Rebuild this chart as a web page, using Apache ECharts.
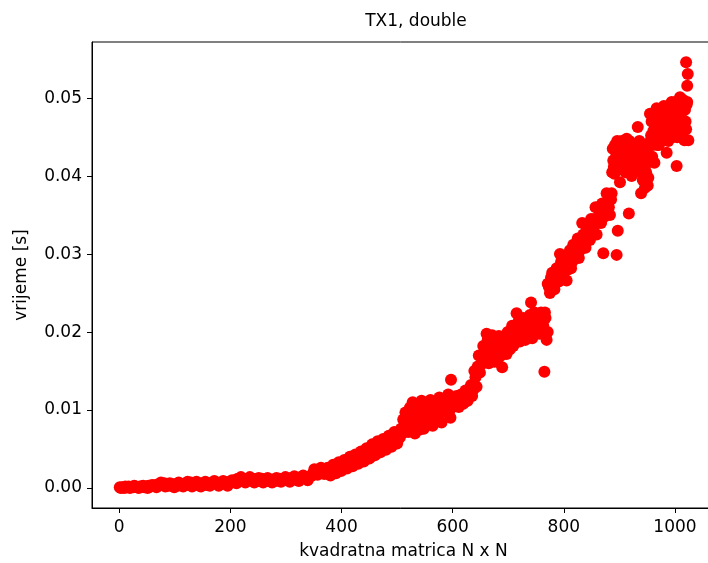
<!DOCTYPE html>
<html>
<head>
<meta charset="utf-8">
<script src="https://cdn.jsdelivr.net/npm/echarts@6/dist/echarts.min.js"></script>
<style>
  html, body { margin: 0; padding: 0; background: #fff; }
  #chart { width: 708px; height: 563px; }
</style>
</head>
<body>
<div id="chart"></div>
<script>
const sizes = [
  1,5,9,13,17,21,25,29,33,37,41,45,49,53,57,61,65,69,73,77,81,85,89,93,97,
  101,105,109,113,117,121,125,129,133,137,141,145,149,153,157,161,165,169,173,177,181,185,189,193,197,201,205,209,
  213,217,221,225,229,233,237,241,245,249,253,257,261,265,269,273,277,281,285,289,293,297,301,305,309,313,317,321,325,329,333,337,341,345,
  349,353,357,361,365,369,373,377,381,385,389,393,397,401,405,409,413,417,421,425,429,433,437,441,445,449,453,457,461,465,469,473,477,481,485,489,493,497,501,505,
  509,513,517,521,525,529,533,537,541,545,549,553,557,561,565,569,573,577,581,585,589,593,597,598,601,
  605,609,613,617,621,625,629,633,637,641,645,649,653,
  657,661,665,669,673,677,681,685,689,690,693,697,701,705,709,713,715,717,721,725,729,733,737,741,743,745,749,753,757,761,765,766,769,
  773,777,781,785,789,793,797,801,805,809,813,817,821,825,829,833,837,841,845,849,853,857,861,865,869,871,873,877,881,885,
  887,889,891,893,895,895,897,899,901,903,905,907,909,911,913,915,917,919,921,923,925,927,929,931,933,935,937,939,941,943,945,947,949,951,953,
  955,957,959,961,963,965,967,969,971,973,975,977,979,981,983,985,987,989,991,993,995,997,999,1001,1003,1005,1007,1009,1011,1013,1015,1017,1019,1020,1021,1022,1023,1024
];
const times = [
  0.0001,0.0001,0.0000,0.0001,0.0002,0.0001,0.0001,0.0002,0.0001,0.0002,0.0002,0.0001,0.0002,0.0003,0.0002,0.0003,0.0004,0.0003,0.0004,0.0005,0.0006,0.0004,0.0003,0.0004,0.0005,
  0.0004,0.0003,0.0005,0.0004,0.0005,0.0004,0.0006,0.0007,0.0005,0.0004,0.0005,0.0003,0.0006,0.0005,0.0004,0.0006,0.0005,0.0007,0.0008,0.0006,0.0005,0.0006,0.0007,0.0006,0.0008,0.0007,0.0009,0.0010,
  0.0012,0.0011,0.0010,0.0012,0.0009,0.0011,0.0010,0.0012,0.0011,0.0009,0.0010,0.0012,0.0010,0.0011,0.0009,0.0010,0.0011,0.0009,0.0010,0.0012,0.0011,0.0010,0.0012,0.0011,0.0013,0.0012,0.0011,0.0013,0.0012,0.0014,0.0013,0.0012,0.0014,0.0015,
  0.0019,0.0022,0.0020,0.0023,0.0021,0.0022,0.0020,0.0023,0.0024,0.0022,0.0026,0.0025,0.0028,0.0027,0.0031,0.0029,0.0032,0.0034,0.0033,0.0036,0.0035,0.0038,0.0037,0.0041,0.0040,0.0045,0.0043,0.0048,0.0050,0.0047,0.0052,0.0051,0.0054,0.0057,0.0055,0.0060,0.0058,0.0063,0.0067,0.0065,
  0.0070,0.0078,0.0085,0.0095,0.0090,0.0102,0.0083,0.0098,0.0075,0.0092,0.0104,0.0087,0.0099,0.0081,0.0095,0.0104,0.0092,0.0100,0.0108,0.0098,0.0114,0.0104,0.0139,0.0108,0.0112,
  0.0108,0.0114,0.0106,0.0117,0.0110,0.0120,0.0124,0.0132,0.0126,0.0142,0.0156,0.0148,0.0166,
  0.0172,0.0198,0.0160,0.0185,0.0170,0.0192,0.0165,0.0180,0.0155,0.0175,0.0195,0.0172,0.0188,0.0200,0.0182,0.0195,0.0224,0.0205,0.0188,0.0210,0.0195,0.0215,0.0200,0.0238,0.0192,0.0212,0.0205,0.0220,0.0198,0.0215,0.0149,0.0225,0.0190,
  0.0258,0.0270,0.0262,0.0278,0.0268,0.0300,0.0275,0.0288,0.0266,0.0295,0.0282,0.0312,0.0298,0.0320,0.0305,0.0340,0.0315,0.0330,0.0322,0.0345,0.0335,0.0360,0.0340,0.0352,0.0365,0.0301,0.0348,0.0378,0.0360,0.0370,
  0.0405,0.0420,0.0403,0.0415,0.0433,0.0299,0.0330,0.0425,0.0392,0.0410,0.0440,0.0418,0.0430,0.0405,0.0448,0.0425,0.0352,0.0435,0.0412,0.0440,0.0420,0.0432,0.0410,0.0425,0.0463,0.0418,0.0430,0.0378,0.0403,0.0422,0.0410,0.0395,0.0418,0.0388,0.0440,
  0.0480,0.0452,0.0425,0.0458,0.0417,0.0470,0.0487,0.0455,0.0440,0.0475,0.0462,0.0448,0.0480,0.0468,0.0455,0.0430,0.0472,0.0490,0.0460,0.0478,0.0450,0.0485,0.0465,0.0495,0.0413,0.0470,0.0482,0.0501,0.0475,0.0458,0.0490,0.0446,0.0470,0.0546,0.0492,0.0516,0.0531,0.0446
];
// further points that fill out the thickness of the band, as [N, seconds]
const morePoints = [
  [3,0.0000],[11,0.0002],[19,0.0000],[27,0.0003],[35,0.0000],[43,0.0003],[51,0.0000],[59,0.0004],[67,0.0001],[75,0.0007],
  [83,0.0002],[91,0.0006],[99,0.0001],[107,0.0007],[115,0.0002],[123,0.0008],[131,0.0002],[139,0.0008],[147,0.0002],[155,0.0008],
  [163,0.0003],[171,0.0009],[179,0.0003],[187,0.0009],[195,0.0003],[203,0.0010],[211,0.0006],[219,0.0014],[227,0.0007],[235,0.0014],
  [243,0.0007],[251,0.0013],[259,0.0007],[267,0.0013],[275,0.0007],[283,0.0013],[291,0.0008],[299,0.0014],[307,0.0008],[315,0.0015],
  [323,0.0009],[331,0.0016],[339,0.0010],[347,0.0017],
  [351,0.0024],[357,0.0017],[363,0.0026],[369,0.0018],[375,0.0026],[381,0.0020],[387,0.0029],[393,0.0022],[399,0.0032],[405,0.0026],
  [411,0.0036],[417,0.0030],[423,0.0040],[429,0.0032],[435,0.0042],[441,0.0036],[447,0.0048],[453,0.0040],[459,0.0053],[465,0.0045],
  [471,0.0057],[477,0.0050],[483,0.0061],[489,0.0055],[495,0.0068],[501,0.0061],
  [380,0.0016],[390,0.0019],[400,0.0022],[410,0.0025],[420,0.0028],[430,0.0031],[440,0.0034],[450,0.0038],[460,0.0042],[470,0.0046],
  [480,0.0049],[490,0.0053],[500,0.0057],
  [385,0.0030],[395,0.0033],[405,0.0036],[415,0.0040],[425,0.0043],[435,0.0047],[445,0.0051],[455,0.0056],[465,0.0060],[475,0.0063],
  [485,0.0067],[495,0.0072],
  [507,0.0076],[511,0.0088],[515,0.0097],[519,0.0080],[523,0.0103],[527,0.0078],[531,0.0095],[535,0.0106],[539,0.0079],[543,0.0100],
  [547,0.0084],[551,0.0096],[555,0.0107],[559,0.0090],[563,0.0101],[567,0.0086],[571,0.0108],[575,0.0094],[579,0.0112],[583,0.0098],
  [587,0.0104],[591,0.0110],[595,0.0100],[599,0.0115],[603,0.0106],
  [520,0.0072],[532,0.0070],[548,0.0076],[564,0.0080],[580,0.0084],[596,0.0090],
  [528,0.0110],[544,0.0112],[560,0.0113],[576,0.0116],[592,0.0120],
  [607,0.0118],[611,0.0104],[615,0.0120],[619,0.0108],[623,0.0125],[627,0.0112],[631,0.0128],[635,0.0118],[639,0.0150],[643,0.0130],
  [647,0.0170],[651,0.0158],
  [655,0.0182],[659,0.0165],[663,0.0190],[667,0.0175],[671,0.0196],[675,0.0162],[679,0.0186],[683,0.0195],[687,0.0170],[691,0.0190],
  [695,0.0180],[699,0.0200],[703,0.0178],[707,0.0208],[711,0.0188],[715,0.0200],[719,0.0215],[723,0.0198],[727,0.0218],[731,0.0190],
  [735,0.0208],[739,0.0222],[743,0.0205],[747,0.0225],[751,0.0198],[755,0.0212],[759,0.0225],[763,0.0208],[767,0.0218],[771,0.0200],
  [771,0.0262],[775,0.0250],[779,0.0276],[783,0.0255],[787,0.0282],[791,0.0265],[795,0.0290],[799,0.0270],[803,0.0295],[807,0.0280],
  [811,0.0305],[815,0.0290],[819,0.0300],[823,0.0310],[827,0.0295],[831,0.0318],[835,0.0325],[839,0.0308],[843,0.0338],[847,0.0318],
  [851,0.0330],[855,0.0345],[859,0.0325],[863,0.0360],[867,0.0340],[875,0.0355],[879,0.0368],[883,0.0350],[886,0.0378],
  [888,0.0435],[890,0.0412],[892,0.0440],[894,0.0425],[896,0.0445],[898,0.0410],[900,0.0438],[902,0.0420],[904,0.0445],[906,0.0428],
  [908,0.0412],[910,0.0442],[912,0.0420],[914,0.0435],[916,0.0415],[918,0.0445],[920,0.0425],[922,0.0400],[924,0.0432],[926,0.0410],
  [928,0.0440],[930,0.0418],[932,0.0436],[934,0.0408],[936,0.0445],[938,0.0420],[940,0.0432],[942,0.0395],[944,0.0438],[946,0.0385],
  [948,0.0405],[950,0.0430],[952,0.0398],[954,0.0418],[956,0.0445],[958,0.0470],[960,0.0440],[962,0.0475],[964,0.0448],[966,0.0462],
  [968,0.0440],[970,0.0470],[972,0.0452],[974,0.0485],[976,0.0445],[978,0.0465],[980,0.0490],[982,0.0450],[984,0.0475],[986,0.0460],
  [988,0.0445],[990,0.0480],[992,0.0468],[994,0.0495],[996,0.0455],[998,0.0475],[1000,0.0460],[1002,0.0485],[1004,0.0450],[1006,0.0492],
  [1008,0.0465],[1010,0.0485],[1012,0.0455],[1014,0.0498],[1016,0.0470],[1018,0.0485],[1020,0.0460],[1022,0.0495]
];
const xTicks = [0, 200, 400, 600, 800, 1000];
const yTicks = [0, 0.01, 0.02, 0.03, 0.04, 0.05];

const font = 'DejaVu Sans';
const chart = echarts.init(document.getElementById('chart'));

const points = sizes.map((n, i) => [n, times[i]]).concat(morePoints);

chart.setOption({
  animation: false,
  backgroundColor: '#fff',
  title: {
    text: 'TX1, double',
    left: 411, top: 8, textAlign: 'center',
    textStyle: { fontFamily: font, fontSize: 17, fontWeight: 'normal', color: '#000' }
  },
  grid: {
    left: 92, top: 42, width: 623, height: 466,
    outerBoundsMode: 'none', containLabel: false,
    show: true, borderColor: '#000', borderWidth: 1, backgroundColor: 'transparent'
  },
  xAxis: {
    type: 'value', min: -49, max: 1072,
    name: 'kvadratna matrica N x N', nameLocation: 'middle', nameGap: 35,
    nameTextStyle: { fontFamily: font, fontSize: 17, color: '#000' },
    axisLine: { show: true, onZero: false, lineStyle: { color: '#000', width: 1 } },
    axisTick: { show: true, length: 5, customValues: xTicks, lineStyle: { color: '#000' } },
    axisLabel: { customValues: xTicks, margin: 11, fontFamily: font, fontSize: 17, color: '#000',
      formatter: v => String(v) },
    splitLine: { show: false }
  },
  yAxis: {
    type: 'value', min: -0.00256, max: 0.0572,
    name: 'vrijeme [s]', nameLocation: 'middle', nameGap: 62,
    nameTextStyle: { fontFamily: font, fontSize: 17, color: '#000' },
    axisLine: { show: true, onZero: false, lineStyle: { color: '#000', width: 1 } },
    axisTick: { show: true, length: 5, customValues: yTicks, lineStyle: { color: '#000' } },
    axisLabel: {
      customValues: yTicks, margin: 10, fontFamily: font, fontSize: 17, color: '#000',
      formatter: v => v.toFixed(2)
    },
    splitLine: { show: false }
  },
  series: [{
    type: 'scatter',
    data: points,
    symbolSize: 12,
    itemStyle: { color: '#ff0000', opacity: 1 }
  }]
});
</script>
</body>
</html>
